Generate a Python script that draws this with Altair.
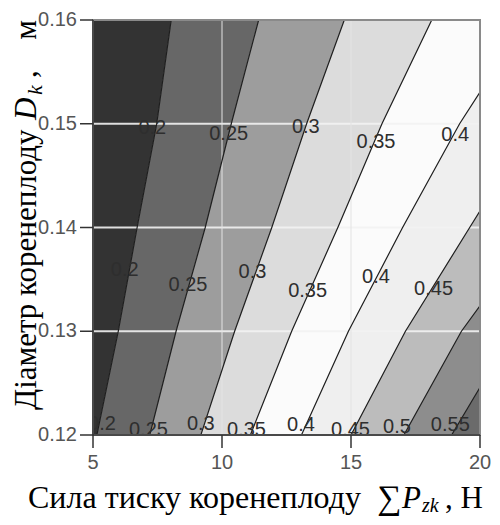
import altair as alt
import pandas as pd

# ---------------- data ----------------
ys = [0.12, 0.13, 0.14, 0.15, 0.16]
levels = [0.20, 0.25, 0.30, 0.35, 0.40, 0.45, 0.50, 0.55]
# x position of each contour level at each y in ys (beyond 20 = outside the plot)
lvl_020 = [5.15, 5.98, 6.71, 7.47, 8.03]
lvl_025 = [7.20, 8.22, 9.35, 10.36, 11.42]
lvl_030 = [9.18, 10.49, 11.93, 13.28, 14.74]
lvl_035 = [11.10, 12.70, 14.49, 16.20, 18.13]
lvl_040 = [13.08, 14.90, 17.00, 19.21, 21.80]
lvl_045 = [15.00, 17.11, 19.60, 22.10, 24.60]
lvl_050 = [17.05, 19.28, 22.20, 24.80, 27.40]
lvl_055 = [18.90, 21.30, 23.90, 26.60, 29.40]
level_x = [lvl_020, lvl_025, lvl_030, lvl_035, lvl_040, lvl_045, lvl_050, lvl_055]

band_names = ["b0", "b1", "b2", "b3", "b4", "b5", "b6", "b7", "b8"]
band_colors = ["#333333", "#676767", "#9d9d9d", "#dcdcdc", "#fbfbfb",
               "#efefef", "#bcbcbc", "#8d8d8d", "#6b6b6b"]

# contour labels
lab_text = ["0.2", "0.25", "0.3", "0.35", "0.4",
            "0.2", "0.25", "0.3", "0.35", "0.4", "0.45",
            "0.2", "0.25", "0.3", "0.35", "0.4", "0.45", "0.5", "0.55"]
lab_x = [7.30, 10.26, 13.25, 15.97, 19.04,
         6.23, 8.68, 11.18, 13.32, 15.97, 18.20,
         5.35, 7.15, 9.18, 10.95, 13.06, 14.98, 16.78, 18.85]
lab_y = [0.1496, 0.1490, 0.1497, 0.1482, 0.1489,
         0.1359, 0.1345, 0.1357, 0.1339, 0.1352, 0.1341,
         0.1211, 0.1205, 0.1211, 0.1205, 0.1210, 0.1205, 0.1208, 0.1210]

x_ticks = [5, 10, 15, 20]
y_ticks = [0.12, 0.13, 0.14, 0.15, 0.16]
h_grid = [0.13, 0.14, 0.15]
v_grid = [10, 15]
x_min, x_max = 5, 20

# ---------------- tables ----------------
bounds = [[x_min] * len(ys)] + level_x + [[x_max] * len(ys)]
band_rows = []
for i, name in enumerate(band_names):
    for j, y in enumerate(ys):
        band_rows.append({"band": name, "yy": y, "xlo": bounds[i][j], "xhi": bounds[i + 1][j]})
bands_df = pd.DataFrame(band_rows)

line_rows = []
for lv, xs in zip(levels, level_x):
    for y, x in zip(ys, xs):
        line_rows.append({"level": lv, "y": y, "x": x})
lines_df = pd.DataFrame(line_rows)

labels_df = pd.DataFrame({"t": lab_text, "x": lab_x, "y": lab_y})

W, H = 387, 415
xs_ = alt.Scale(domain=[x_min, x_max], nice=False, zero=False)
ys_ = alt.Scale(domain=[0.12, 0.16], nice=False, zero=False)
AX = "#333333"
LBL = "#555555"

bands = alt.Chart(bands_df).mark_area(orient="horizontal", clip=True, opacity=1).encode(
    y=alt.Y("yy:Q", scale=ys_, axis=None),
    x=alt.X("xlo:Q", scale=xs_, axis=None, stack=None),
    x2=alt.X2("xhi"),
    color=alt.Color("band:N", scale=alt.Scale(domain=band_names, range=band_colors), legend=None),
)

hgrid = alt.Chart(pd.DataFrame({"y": h_grid})).mark_rule(
    color="#f2f2f2", strokeWidth=2, opacity=0.9).encode(
    y=alt.Y("y:Q", scale=ys_, axis=None))
vgrid = alt.Chart(pd.DataFrame({"x": v_grid})).mark_rule(
    color="#e4e4e4", strokeWidth=2, opacity=0.5).encode(
    x=alt.X("x:Q", scale=xs_, axis=None))

lines = alt.Chart(lines_df).mark_line(clip=True, color="#1e1e1e", strokeWidth=1.2).encode(
    x=alt.X("x:Q", scale=xs_, axis=None),
    y=alt.Y("y:Q", scale=ys_, axis=None),
    detail="level:N",
    order=alt.Order("y:Q"),
)

labels = alt.Chart(labels_df).mark_text(
    clip=True, font="Liberation Sans", fontSize=20, color="#2e2e2e").encode(
    x=alt.X("x:Q", scale=xs_, axis=None),
    y=alt.Y("y:Q", scale=ys_, axis=None),
    text="t:N",
)

frame = alt.Chart(pd.DataFrame({"a": [0]})).mark_rect(
    filled=False, stroke="#8a8a8a", strokeWidth=2).encode(
    x=alt.value(0), x2=alt.value(W), y=alt.value(0), y2=alt.value(H))

# ---- hand-built axes (ticks + labels from the tick lists, placed by the scales) ----
xt_df = pd.DataFrame({"v": x_ticks})
yt_df = pd.DataFrame({"v": y_ticks})
x_tick_marks = alt.Chart(xt_df).mark_rule(color=AX, strokeWidth=1.5).encode(
    x=alt.X("v:Q", scale=xs_, axis=None), y=alt.value(H), y2=alt.value(H + 13))
x_tick_labels = alt.Chart(xt_df).mark_text(
    font="Liberation Sans", fontSize=20, color=LBL, baseline="top", align="center").encode(
    x=alt.X("v:Q", scale=xs_, axis=None), y=alt.value(H + 18),
    text=alt.Text("v:Q", format="d"))
y_tick_marks = alt.Chart(yt_df).mark_rule(color=AX, strokeWidth=1.5).encode(
    y=alt.Y("v:Q", scale=ys_, axis=None), x=alt.value(-13), x2=alt.value(0))
y_tick_labels = alt.Chart(yt_df).mark_text(
    font="Liberation Sans", fontSize=20, color=LBL, baseline="middle", align="right").encode(
    y=alt.Y("v:Q", scale=ys_, axis=None), x=alt.value(-16),
    text=alt.Text("v:Q", format=".2f"))
dom_df = pd.DataFrame({"a": [0]})
y_domain = alt.Chart(dom_df).mark_rule(color=AX, strokeWidth=1.5).encode(
    x=alt.value(0), y=alt.value(0), y2=alt.value(H))
x_domain = alt.Chart(dom_df).mark_rule(color=AX, strokeWidth=1.5).encode(
    y=alt.value(H), x=alt.value(0), x2=alt.value(W))


def piece(text, x, y, size, style="normal", angle=0, align="left"):
    return alt.Chart(pd.DataFrame({"t": [text]})).mark_text(
        align=align, baseline="alphabetic", font="Liberation Serif",
        fontSize=size, fontStyle=style, angle=angle, color="#000000").encode(
        x=alt.value(x), y=alt.value(y), text="t:N")


titles = [
    piece("Сила тиску коренеплоду", -65, 488, 32),
    piece("∑", 284, 489, 34),
    piece("P", 309, 488, 31, "italic"),
    piece("zk", 329, 492, 20, "italic"),
    piece(", Н", 390, 488, 31, align="right"),
    piece("Діаметр коренеплоду", -57, 390, 31, angle=270),
    piece("D", -57, 100, 31, "italic", angle=270),
    piece("k", -51, 75, 22, "italic", angle=270),
    piece(",", -57, 58, 31, angle=270),
    piece("м", -57, 0, 31, angle=270, align="right"),
]

chart = alt.layer(bands, hgrid, vgrid, lines, labels, frame,
                  x_domain, y_domain, x_tick_marks, y_tick_marks,
                  x_tick_labels, y_tick_labels, *titles).properties(
    width=W, height=H,
    autosize=alt.AutoSizeParams(type="none"),
    padding={"left": 85, "top": 12, "right": 12, "bottom": 82},
).configure_view(strokeWidth=0)

chart.save("out.html", embed_options={"renderer": "svg", "actions": False})
